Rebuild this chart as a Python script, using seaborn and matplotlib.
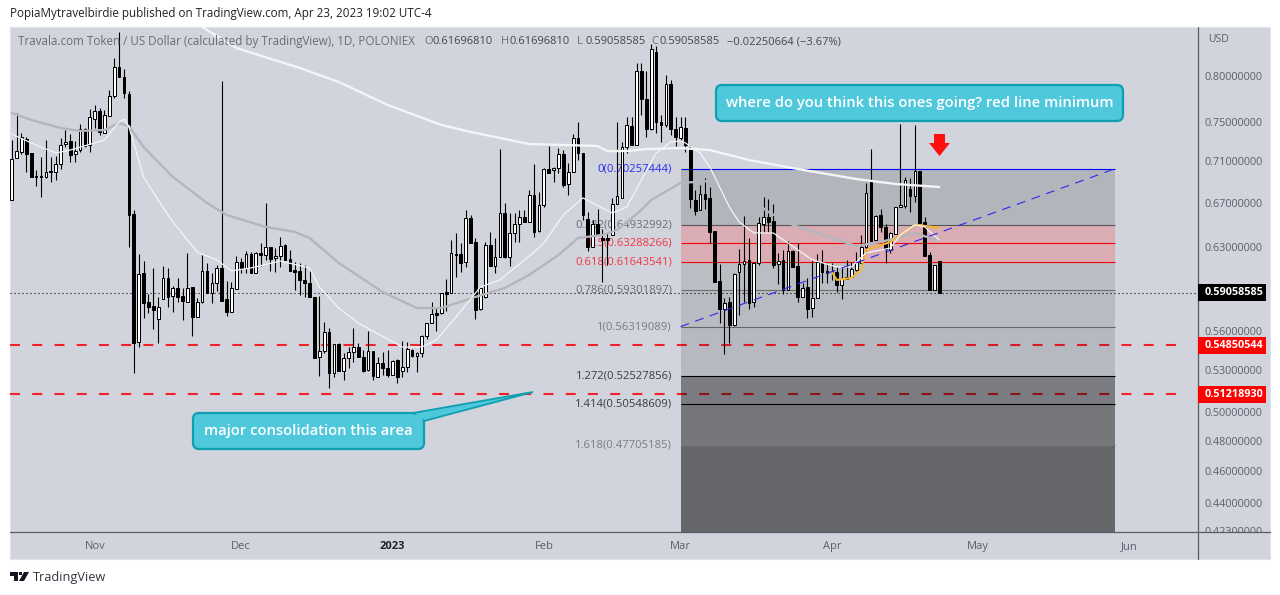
import matplotlib
matplotlib.use("Agg")
import matplotlib.pyplot as plt
import matplotlib.dates as mdates
from matplotlib.patches import Rectangle, FancyBboxPatch, Polygon
from matplotlib.transforms import Affine2D, Bbox
from matplotlib.ticker import NullLocator
import pandas as pd
import seaborn as sns

sns.set_theme(style="white")
plt.rcParams["font.family"] = ["Open Sans", "DejaVu Sans"]

# daily candles, Oct 14 2022 to Apr 23 2023
opens = [
    .6725, .7132, .7192, .7324, .7182, .6955, .6955, .6945, .7003, .6993,
    .7073, .7273, .7304, .7172, .7212, .7428, .7263, .7532, .7617, .7386,
    .7564, .7779, .8102, .7989, .7801, .6594, .5512, .6072, .5830, .5797,
    .5692, .5854, .6029, .5879, .5945, .5879, .5830, .5953, .5708, .5830,
    .6089, .5903, .5987, .6114, .5854, .5748, .5936, .6166, .6114, .6235,
    .6071, .6244, .6226, .6296, .6200, .6218, .6314, .6191, .6097, .6089,
    .6012, .5987, .5871, .5397, .5442, .5589, .5277, .5496, .5292, .5390,
    .5435, .5473, .5397, .5300, .5442, .5248, .5352, .5315, .5262, .5375,
    .5292, .5322, .5450, .5405, .5427, .5558, .5660, .5740, .5740, .5911,
    .5903, .6235, .6235, .6166, .6557, .6340, .5772, .5871, .6314, .6131,
    .6209, .6603, .6209, .6421, .6503, .6566, .6521, .6772, .6439, .6678,
    .7023, .7013, .7033, .7172, .6877, .6993, .7334, .7182, .6548, .6296,
    .6503, .6376, .6376, .6403, .6687, .6744, .7243, .7459, .7263, .8056,
    .7747, .7428, .8274, .7501, .7470, .7910, .7428, .7334, .7438, .7243,
    .6725, .6631, .6781, .6744, .6439, .6004, .5772, .5830, .5644, .6080,
    .6148, .6183, .5830, .6157, .6503, .6566, .6530, .6148, .6183, .5928,
    .6261, .6131, .5871, .5953, .5780, .5862, .6157, .6089, .6089, .6080,
    .5970, .6021, .6038, .6097, .6157, .6296, .6906, .6358, .6585, .6476,
    .6270, .6412, .6659, .6668, .6829, .6763, .7003, .6521, .6226, .5928,
    .61696810,
]
highs = [
    .7314, .7596, .7386, .7345, .7182, .7013, .7142, .7314, .7142, .7152,
    .7334, .7417, .7375, .7304, .7480, .7438, .7639, .7682, .7650, .7628,
    .7845, .8204, .8508, .8079, .7834, .6631, .6235, .6174, .5895, .6114,
    .5871, .6131, .6114, .5961, .6029, .5945, .6244, .5953, .5862, .6226,
    .6157, .6071, .6140, .7944, .6004, .5995, .6218, .6200, .6261, .6252,
    .6252, .6331, .6697, .6296, .6287, .6385, .6323, .6270, .6166, .6157,
    .6140, .6089, .5871, .5879, .5668, .5621, .5496, .5504, .5427, .5473,
    .5621, .5504, .5450, .5597, .5442, .5397, .5435, .5450, .5375, .5382,
    .5519, .5512, .5458, .5435, .5566, .5660, .5830, .5780, .5903, .6021,
    .6358, .6421, .6331, .6631, .6585, .6376, .5945, .6340, .6430, .6376,
    .7222, .6697, .6603, .6603, .6631, .6631, .6819, .7072, .6800, .7033,
    .7252, .7043, .7232, .7212, .7082, .7375, .7501, .7182, .6612, .6539,
    .6640, .6457, .6421, .6744, .7501, .7294, .7554, .7554, .8147, .8147,
    .8056, .8367, .8344, .7575, .8011, .7955, .7554, .7554, .7554, .7263,
    .6819, .6867, .6935, .6848, .6439, .6148, .5862, .5871, .6071, .6279,
    .6575, .6376, .6166, .6566, .6753, .6734, .6687, .6244, .6270, .6349,
    .6270, .6331, .5987, .6029, .6183, .6235, .6270, .6157, .6157, .6123,
    .6114, .6183, .6166, .6252, .6403, .6887, .7222, .6585, .6640, .6503,
    .6430, .6659, .7480, .6945, .6935, .7470, .7003, .6566, .6252, .6140,
    .61696810,
]
lows = [
    .6725, .7132, .7172, .6993, .6945, .6858, .6753, .6935, .6897, .6916,
    .7023, .7243, .7092, .7092, .7192, .7243, .7192, .7438, .7365, .7386,
    .7564, .7757, .7989, .7757, .6296, .5277, .5473, .5700, .5740, .5613,
    .5504, .5854, .5789, .5748, .5830, .5684, .5830, .5558, .5708, .5821,
    .5903, .5821, .5920, .5838, .5716, .5748, .5936, .6071, .6071, .6071,
    .6071, .6131, .6183, .6089, .6080, .6123, .6183, .6089, .5928, .5887,
    .5871, .5871, .5390, .5255, .5427, .5168, .5248, .5292, .5226, .5315,
    .5360, .5397, .5285, .5292, .5226, .5248, .5262, .5248, .5262, .5204,
    .5248, .5285, .5397, .5285, .5397, .5535, .5660, .5597, .5732, .5756,
    .5903, .6038, .6080, .6123, .6331, .5692, .5764, .5862, .6131, .6071,
    .6209, .6200, .6131, .6340, .6340, .6521, .6521, .6385, .6430, .6659,
    .6983, .6897, .6983, .6848, .6772, .6993, .7112, .6539, .6261, .6296,
    .6403, .5995, .6140, .6403, .6687, .6744, .7182, .7263, .7263, .7575,
    .7345, .7417, .7386, .7293, .7449, .7365, .7253, .7314, .7192, .6650,
    .6585, .6631, .6640, .6331, .5995, .5660, .5420, .5504, .5636, .5724,
    .5830, .5772, .5789, .6140, .6430, .6430, .6114, .5978, .5895, .5928,
    .6123, .5830, .5871, .5700, .5708, .5862, .5987, .5987, .6012, .5911,
    .5854, .6021, .6038, .6089, .6157, .6244, .6349, .6349, .6430, .6157,
    .6244, .6412, .6659, .6650, .6612, .6706, .6512, .6218, .5928, .5928,
    .59058585,
]
closes = [
    .7122, .7202, .7345, .7172, .6945, .6945, .6945, .6993, .6993, .7073,
    .7263, .7293, .7162, .7202, .7428, .7253, .7554, .7617, .7397, .7575,
    .7779, .8102, .7989, .7812, .6585, .5504, .6063, .5821, .5789, .5764,
    .5789, .6029, .5871, .5945, .5871, .5838, .5945, .5708, .5830, .6089,
    .5903, .5987, .6114, .5838, .5748, .5945, .6166, .6114, .6235, .6071,
    .6244, .6226, .6296, .6191, .6218, .6305, .6183, .6089, .6080, .6012,
    .5987, .5871, .5390, .5442, .5589, .5277, .5496, .5292, .5390, .5435,
    .5473, .5397, .5292, .5442, .5255, .5352, .5315, .5262, .5367, .5248,
    .5322, .5458, .5405, .5427, .5558, .5660, .5732, .5724, .5903, .5895,
    .6244, .6226, .6157, .6557, .6331, .5764, .5945, .6314, .6131, .6209,
    .6603, .6209, .6421, .6503, .6566, .6521, .6772, .6430, .6678, .7023,
    .6983, .7033, .7172, .6867, .6993, .7334, .7182, .6585, .6296, .6503,
    .6403, .6358, .6358, .6687, .6763, .7243, .7470, .7263, .8056, .7747,
    .7428, .8309, .7501, .7470, .7910, .7428, .7345, .7449, .7263, .6734,
    .6622, .6781, .6734, .6430, .5995, .5772, .5821, .5644, .6063, .6148,
    .6174, .5821, .6157, .6512, .6566, .6521, .6140, .6174, .5928, .6261,
    .6123, .5871, .5945, .5772, .5862, .6166, .6080, .6071, .6080, .5970,
    .6021, .6038, .6106, .6166, .6296, .6791, .6349, .6575, .6476, .6279,
    .6421, .6659, .6678, .6916, .6763, .7003, .6512, .6218, .5928, .6140,
    .59058585,
]

# moving averages
ma_long_dates = ["2022-11-23", "2022-11-30", "2022-12-13", "2022-12-21", "2022-12-31", "2023-01-11",
                 "2023-01-17", "2023-01-29", "2023-02-12", "2023-02-14", "2023-02-18", "2023-02-22",
                 "2023-03-01", "2023-03-07", "2023-03-15", "2023-03-25", "2023-04-06", "2023-04-14",
                 "2023-04-23"]
ma_long = [.8568, .8320, .8090, .7933, .7682, .7470, .7397, .7273, .7253, .7202, .7202, .7222,
           .7232, .7212, .7112, .7023, .6925, .6877, .6848]

ma_mid_dates = ["2022-10-15", "2022-10-19", "2022-10-25", "2022-10-29", "2022-11-03", "2022-11-06",
                "2022-11-08", "2022-11-11", "2022-11-17", "2022-11-24", "2022-11-28", "2022-12-06",
                "2022-12-12", "2022-12-15", "2022-12-21", "2022-12-30", "2023-01-06", "2023-01-11",
                "2023-01-18", "2023-01-24", "2023-01-29", "2023-02-04", "2023-02-08", "2023-02-13",
                "2023-02-16", "2023-02-21", "2023-02-23", "2023-03-01", "2023-03-07", "2023-03-13",
                "2023-03-19", "2023-03-24", "2023-04-06", "2023-04-11", "2023-04-18", "2023-04-23"]
ma_mid = [.7596, .7522, .7438, .7407, .7417, .7490, .7459, .7243, .6945, .6697, .6585, .6476,
          .6430, .6376, .6157, .5911, .5780, .5780, .5871, .5945, .6055, .6226, .6376, .6403,
          .6448, .6631, .6725, .6887, .6906, .6819, .6612, .6494, .6305, .6340, .6421, .6349]

ma_short_dates = ["2022-10-15", "2022-10-19", "2022-10-24", "2022-10-27", "2022-11-01", "2022-11-03",
                  "2022-11-06", "2022-11-07", "2022-11-08", "2022-11-09", "2022-11-11", "2022-11-14",
                  "2022-11-17", "2022-11-22", "2022-11-26", "2022-11-29", "2022-12-03", "2022-12-09",
                  "2022-12-15", "2022-12-17", "2022-12-21", "2022-12-25", "2023-01-03", "2023-01-07",
                  "2023-01-10", "2023-01-14", "2023-01-19", "2023-01-23", "2023-01-30", "2023-02-01",
                  "2023-02-05", "2023-02-09", "2023-02-15", "2023-02-18", "2023-02-24", "2023-02-27",
                  "2023-03-01", "2023-03-02", "2023-03-05", "2023-03-07", "2023-03-11", "2023-03-13",
                  "2023-03-16", "2023-03-20", "2023-03-23", "2023-03-28", "2023-04-02", "2023-04-05",
                  "2023-04-08", "2023-04-13", "2023-04-15", "2023-04-18", "2023-04-20", "2023-04-23"]
ma_short = [.7375, .7284, .7182, .7212, .7284, .7314, .7501, .7532, .7449, .7284, .6945, .6725,
            .6521, .6252, .6183, .6089, .6114, .6174, .6114, .5953, .5780, .5660, .5473, .5473,
            .5527, .5708, .5953, .6012, .6252, .6331, .6585, .6744, .6603, .6659, .7182, .7294,
            .7304, .7284, .7182, .7043, .6659, .6521, .6421, .6421, .6331, .6183, .6123, .6123,
            .6244, .6287, .6403, .6494, .6476, .6358]

ma_orange_dates = ["2023-04-01", "2023-04-02", "2023-04-05", "2023-04-07", "2023-04-08", "2023-04-13",
                   "2023-04-18", "2023-04-20", "2023-04-23"]
ma_orange = [.6080, .6012, .6029, .6097, .6270, .6340, .6494, .6485, .6467]

# fib retracement
fib_ratios = ["0", "0.382", "0.5", "0.618", "0.786", "1", "1.272", "1.414", "1.618"]
fib_prices = [.70257444, .64932992, .63288266, .61643541, .59301897, .56319089, .52527856, .50548609, .47705185]
fib_line_colors = ["#0000ff", "#555555", "#f00000", "#f00000", "#6e6e6e", "#666666", "#000000", "#000000", "#77787c"]
fib_text_colors = ["#2a2aee", "#6a6d75", "#f23645", "#f23645", "#6a6d75", "#787b82", "#3a3c42", "#3a3c42", "#7b7e85"]
# zones are see-through, the red levels show darker under them
fib_fills = [("black", .145), ("#e8787f", .42), ("#e8787f", .42), ("black", .105), ("black", .115),
             ("black", .125), ("black", .41), ("black", .44), ("black", .515)]
fib_start, fib_end = "2023-03-01", "2023-05-29"

last_price = 0.59058585
support_levels = [0.54850544, 0.51218930]
price_ticks = [.80, .75, .71, .67, .63, .56, .53, .50, .48, .46, .44, .423]
month_ticks = ["2022-11-01", "2022-12-01", "2023-01-01", "2023-02-01", "2023-03-01", "2023-04-01",
               "2023-05-01", "2023-06-01"]
month_labels = ["Nov", "Dec", "2023", "Feb", "Mar", "Apr", "May", "Jun"]

W, H = 1280, 595
PANEL = "#d1d4dc"
fig = plt.figure(figsize=(W / 100, H / 100), dpi=100, facecolor="white")
# image pixels, y pointing down, for the furniture around the chart
px = Affine2D().scale(1 / W, -1 / H).translate(0, 1) + fig.transFigure

fig.add_artist(Rectangle((10, 27), 1260, 532, transform=px, fc=PANEL, ec="#e0e3eb", lw=0.8, zorder=-2))

ax = fig.add_axes([10 / W, 1 - 532 / H, 1188 / W, 505 / H], facecolor="none")
ax.set_yscale("log")

dates = pd.date_range(end="2023-04-23", periods=len(closes), freq="D")
df = pd.DataFrame({"date": dates, "open": opens, "high": highs, "low": lows, "close": closes})
df["num"] = mdates.date2num(df["date"])
nov1 = mdates.date2num(pd.Timestamp("2022-11-01"))
x_left = nov1 + (10 - 94.7) / 4.882
x_right = nov1 + (1198 - 94.7) / 4.882
y_bottom, y_top = 0.4224, 0.8568
f0, f1 = mdates.date2num(pd.Timestamp(fib_start)), mdates.date2num(pd.Timestamp(fib_end))

# horizontal levels
for lvl in support_levels:
    ax.hlines(lvl, x_left, nov1 + (1186 - 94.7) / 4.882, color="#f5202c", lw=1.5,
              linestyles=(0, (4.8, 5.87)), zorder=0.5)
ax.hlines(last_price, x_left, x_right, color="black", lw=0.8, linestyles=(0, (1, 2.6)), zorder=2)

# fib zones, lines and labels sit under the candles
edges = fib_prices + [y_bottom]
for i, (fill, alpha) in enumerate(fib_fills):
    ax.fill_between([f0, f1], edges[i], edges[i + 1], color=fill, alpha=alpha, lw=0, zorder=1)
for ratio, price, lc, tc in zip(fib_ratios, fib_prices, fib_line_colors, fib_text_colors):
    lines = ax.hlines(price, f0, f1, color=lc, lw=0.8, zorder=1.5)
    lines.set_snap(True)
    ax.annotate(f"{ratio}({price:.8f})", xy=(f0, price), xytext=(-6.2, 0), textcoords="offset points",
                ha="right", va="center", color=tc, fontsize=8.1, zorder=1.6)

# candles
ups = df[df["close"] >= df["open"]]
downs = df[df["close"] < df["open"]]
ax.vlines(df["num"], df["low"], df["high"], color="black", lw=0.8, zorder=3)
ax.bar(ups["num"], ups["close"] - ups["open"], bottom=ups["open"], width=0.56, fc="white", ec="black",
       lw=0.72, zorder=3.1)
ax.bar(downs["num"], downs["close"] - downs["open"], bottom=downs["open"], width=0.56, fc="black", ec="black",
       lw=0.72, zorder=3.1)

# moving averages on top of the candles
sns.lineplot(x=pd.to_datetime(ma_mid_dates), y=ma_mid, color="#b5b6bd", lw=1.7, estimator=None, ax=ax, zorder=4)
sns.lineplot(x=pd.to_datetime(ma_orange_dates), y=ma_orange, color="#f5b731", lw=1.5, estimator=None, ax=ax, zorder=4)
sns.lineplot(x=pd.to_datetime(ma_long_dates), y=ma_long, color="#f4f5f7", lw=1.7, estimator=None, ax=ax, zorder=4.1)
sns.lineplot(x=pd.to_datetime(ma_short_dates), y=ma_short, color="#f4f5f7", lw=0.9, estimator=None, ax=ax, zorder=4.2)
sns.lineplot(x=pd.to_datetime([fib_start, fib_end]), y=[fib_prices[5], fib_prices[0]], color="#2a2af0", lw=0.8,
             linestyle=(0, (8, 6)), estimator=None, ax=ax, zorder=4.3)

ax.set_xlim(x_left, x_right)
ax.set_ylim(y_bottom, y_top)
ax.set(xlabel="", ylabel="")
for s in ax.spines.values():
    s.set_visible(False)

ax.yaxis.tick_right()
ax.yaxis.set_minor_locator(NullLocator())
ax.xaxis.set_minor_locator(NullLocator())
ax.set_yticks(price_ticks)
ax.set_yticklabels([f"{p:.8f}" for p in price_ticks], color="#5d606b", fontsize=7.8)
ax.tick_params(axis="y", length=0, pad=5)
ax.set_xticks(mdates.date2num(pd.to_datetime(month_ticks)))
ax.set_xticklabels(month_labels, color="#5d606b", fontsize=8)
ax.tick_params(axis="x", length=0, pad=6.5)
ax.get_xticklabels()[2].set_color("#222222")
ax.get_xticklabels()[2].set_fontweight("bold")
# lowest price label is cut by the time axis
ax.get_yticklabels()[-1].set_clip_on(True)
ax.get_yticklabels()[-1].set_clip_box(Bbox.from_extents(1198, H - 532, W, H))

# axis frame
fig.add_artist(plt.Line2D([1198, 1198], [27, 559], transform=px, color="#5a5c63", lw=0.9, zorder=3))
fig.add_artist(plt.Line2D([10, 1270], [532, 532], transform=px, color="#5a5c63", lw=0.9, zorder=3))

# price tags
for y0, y1, label, col in [(284, 301, "0.59058585", "black"),
                           (337, 354, "0.54850544", "#ff0000"),
                           (386, 403, "0.51218930", "#ff0000")]:
    fig.add_artist(Rectangle((1198, y0), 68, y1 - y0, transform=px, fc=col, ec="none", zorder=6))
    fig.text(1234, (y0 + y1) / 2, label, transform=px, color="white", fontsize=7.8, fontweight="bold",
             ha="center", va="center", zorder=7)
fig.text(1208, 40, "USD", transform=px, color="#5d606b", fontsize=7.5, ha="left", va="center")

# header and legend line
fig.text(10, 14, "PopiaMytravelbirdie published on TradingView.com, Apr 23, 2023 19:02 UTC-4", transform=px,
         color="#222222", fontsize=8.4, ha="left", va="center")
fig.text(18, 42, "Travala.com Token / US Dollar (calculated by TradingView), 1D, POLONIEX", transform=px,
         color="#6a6d75", fontsize=8.4, ha="left", va="center", zorder=5)
for x, tag, val in [(424, "O", "0.61696810"), (501, "H", "0.61696810"), (577, "L", "0.59058585"), (651, "C", "0.59058585")]:
    fig.text(x, 42, tag, transform=px, color="#6a6d75", fontsize=8, ha="left", va="center", zorder=5)
    fig.text(x + 8.5, 42, val, transform=px, color="#45474d", fontsize=8, ha="left", va="center", zorder=5)
fig.text(727, 42, "\u22120.02250664 (\u22123.67%)", transform=px, color="#45474d", fontsize=8, ha="left", va="center",
         zorder=5)

# callouts
CYAN, TEAL = "#4fc8dc", "#0e9fb0"
for (x0, y0, x1, y1), msg in [((716, 85, 1123, 121), "where do you think this ones going? red line minimum"),
                              ((193, 413, 424, 449), "major consolidation this area")]:
    fig.add_artist(FancyBboxPatch((x0 + 5, y0 + 5), x1 - x0 - 10, y1 - y0 - 10, boxstyle="round,pad=5,rounding_size=6",
                                  transform=px, fc=CYAN, ec=TEAL, lw=1.6, zorder=5.5))
    fig.text((x0 + x1) / 2, (y0 + y1) / 2, msg, transform=px, color="white", fontsize=10.6, fontweight="semibold",
             ha="center", va="center", zorder=6)
# tail of the lower callout, with its root blended into the box
fig.add_artist(Polygon([(413, 413), (533, 392), (424, 421)], transform=px, fc=CYAN, ec=TEAL, lw=1.3, zorder=5.6))
fig.add_artist(Polygon([(408, 415), (422, 414.5), (422.5, 422), (408, 422)], transform=px, fc=CYAN, ec="none", zorder=5.7))

# red arrow
fig.add_artist(Polygon([(934, 134), (945, 134), (945, 143), (950, 143), (939.5, 156), (929, 143), (934, 143)],
                       transform=px, fc="#ff1010", ec="none", zorder=5))

# TradingView mark
LOGO = "#131722"
fig.add_artist(Polygon([(10, 572), (18, 572), (18, 581), (14, 581), (14, 576), (10, 576)], transform=px, fc=LOGO, ec="none"))
fig.add_artist(Polygon([(19, 572), (22, 572), (22, 575), (19, 575)], transform=px, fc=LOGO, ec="none"))
fig.add_artist(Polygon([(24, 572), (29, 572), (24, 581), (19, 581)], transform=px, fc=LOGO, ec="none"))
fig.text(33, 577, "TradingView", transform=px, color="#333640", fontsize=9.2, ha="left", va="center")

fig.savefig("out.png", dpi=100)
